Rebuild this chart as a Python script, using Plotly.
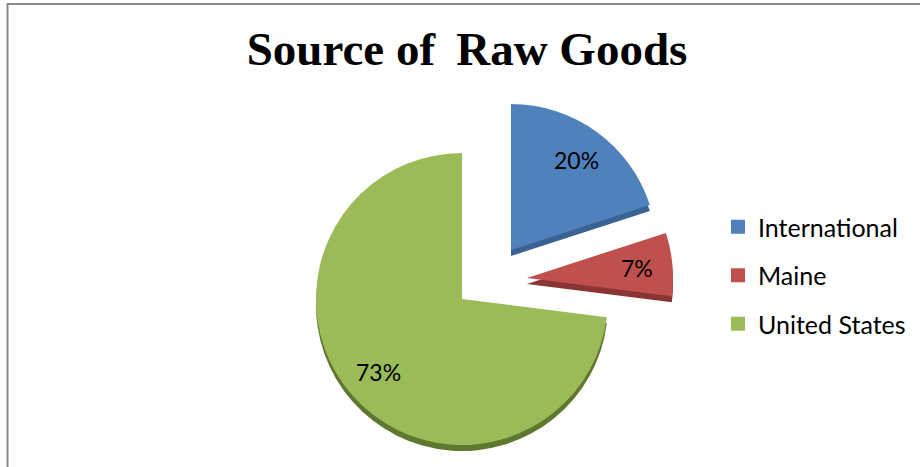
import math
import plotly.graph_objects as go

# Source shares (percent), clockwise from 12 o'clock
categories = ["International", "Maine", "United States"]
shares = [20, 7, 73]

face_colors = ["#4F81BD", "#C0504D", "#9BBB59"]
side_colors = ["#3A6394", "#8A3533", "#5F7830"]

W, H = 920, 467
RADIUS = 146          # slice radius in px
DEPTH = 6             # visual thickness of each slice in px
LABEL_R = 0.76        # label distance from the tip, as a fraction of the radius
# where each slice's tip sits on the canvas (px), so slices appear exploded
tips = [(511, 250), (527, 278), (462, 299)]

CLEAR = "rgba(0,0,0,0)"


def domain_for(cx, cy, r):
    return dict(x=[(cx - r) / W, (cx + r) / W],
                y=[(H - cy - r) / H, (H - cy + r) / H])


fig = go.Figure()

# one pie per slice: all slices are kept so angles come from the full data,
# but only the slice of interest is painted; the darker copy beneath gives depth
for layer in ("side", "face"):
    for k, (cx, cy) in enumerate(tips):
        shift = DEPTH if layer == "side" else 0
        palette = side_colors if layer == "side" else face_colors
        colors = [palette[i] if i == k else CLEAR for i in range(len(shares))]
        fig.add_trace(go.Pie(
            labels=categories,
            values=shares,
            sort=False,
            direction="clockwise",
            rotation=0,
            domain=domain_for(cx, cy + shift, RADIUS),
            marker=dict(colors=colors, line=dict(width=0)),
            textinfo="none",
            showlegend=False,
            hoverinfo="skip",
        ))

# percentage labels, placed along each slice's mid-angle
total = sum(shares)
annotations = []
start = 0.0
for k, (cx, cy) in enumerate(tips):
    mid = math.radians(360.0 * (start + shares[k] / 2) / total)
    start += shares[k]
    px = cx + LABEL_R * RADIUS * math.sin(mid)
    py = cy - LABEL_R * RADIUS * math.cos(mid)
    annotations.append(dict(
        text=f"{round(100 * shares[k] / total)}%",
        x=px / W, y=1 - py / H, xref="paper", yref="paper",
        xanchor="center", yanchor="middle", showarrow=False,
        font=dict(family="Lato", size=23, color="#000000"),
    ))

# legend entries
for name, col in zip(categories, face_colors):
    fig.add_trace(go.Scatter(
        x=[None], y=[None], mode="markers", name=name,
        legendgroup=name,
        marker=dict(symbol="square", size=14, color=col),
    ))

fig.update_layout(
    width=W, height=H,
    margin=dict(l=0, r=0, t=0, b=0),
    paper_bgcolor="white",
    plot_bgcolor="white",
    xaxis=dict(visible=False),
    yaxis=dict(visible=False),
    title=dict(
        text="Source of\u2009 Raw Goods",
        font=dict(family="Liberation Serif", size=47, color="#000000", weight="bold"),
        x=467 / W, xanchor="center", xref="container",
        y=1 - 49 / H, yanchor="middle", yref="container",
    ),
    legend=dict(
        x=718 / W, xanchor="left",
        y=1 - 204 / H, yanchor="top",
        font=dict(family="Lato", size=25, color="#000000"),
        tracegroupgap=13,
        bgcolor="rgba(0,0,0,0)",
    ),
    annotations=annotations,
    shapes=[dict(
        type="rect", xref="paper", yref="paper",
        x0=7.5 / W, x1=1.05, y0=-0.05, y1=1 - 4 / H,
        line=dict(color="#8A8A8A", width=2),
        fillcolor="rgba(0,0,0,0)",
        layer="below",
    )],
)

fig.write_html("out.html")
